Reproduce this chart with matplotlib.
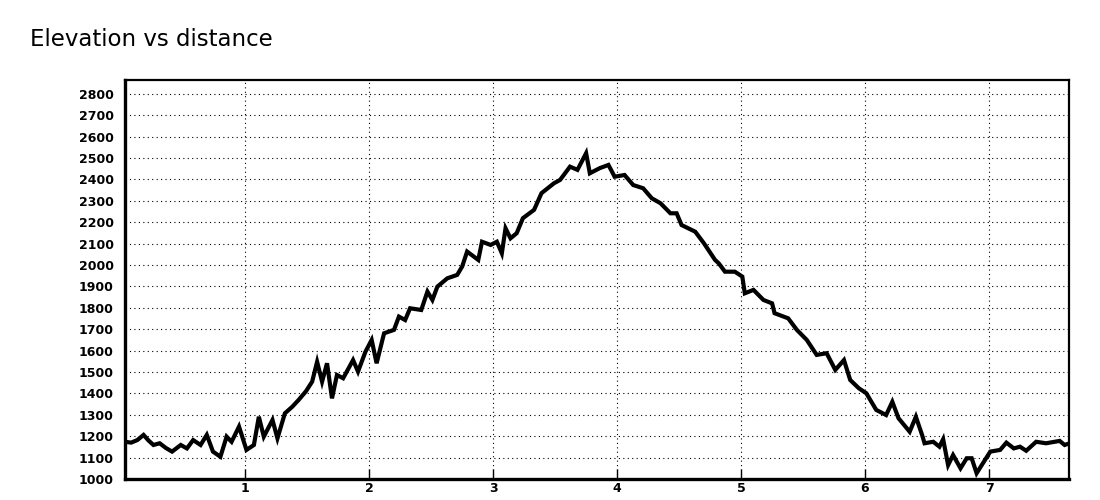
import matplotlib
matplotlib.use("Agg")
import matplotlib.pyplot as plt

title = "Elevation vs distance"

distance_km = [
    0.03, 0.08, 0.13, 0.18, 0.22, 0.26, 0.31, 0.36, 0.41, 0.48, 0.53, 0.58, 0.64, 0.69,
    0.74, 0.80, 0.85, 0.89, 0.95, 1.01, 1.07, 1.11, 1.15, 1.22, 1.26, 1.32, 1.38, 1.43,
    1.49, 1.54, 1.58, 1.62, 1.66, 1.70, 1.74, 1.79, 1.87, 1.91, 1.97, 2.02, 2.06, 2.12,
    2.20, 2.24, 2.29, 2.33, 2.42, 2.47, 2.51, 2.55, 2.63, 2.71, 2.75, 2.79, 2.88, 2.91,
    2.98, 3.03, 3.07, 3.10, 3.14, 3.19, 3.24, 3.33, 3.39, 3.49, 3.54, 3.62, 3.68, 3.75,
    3.78, 3.86, 3.93, 3.98, 4.06, 4.13, 4.21, 4.28, 4.35, 4.43, 4.48, 4.52, 4.63, 4.70,
    4.79, 4.82, 4.87, 4.95, 5.01, 5.03, 5.10, 5.18, 5.25, 5.27, 5.38, 5.45, 5.53, 5.61,
    5.69, 5.76, 5.83, 5.88, 5.95, 6.01, 6.09, 6.17, 6.22, 6.27, 6.36, 6.41, 6.46, 6.48,
    6.55, 6.60, 6.63, 6.67, 6.71, 6.77, 6.82, 6.86, 6.90, 6.95, 7.01, 7.09, 7.14, 7.20,
    7.25, 7.30, 7.38, 7.46, 7.57, 7.61, 7.64,
]

elevation_m = [
    1174, 1170, 1182, 1206, 1180, 1159, 1167, 1145, 1128, 1159, 1143, 1182, 1159, 1206,
    1128, 1104, 1198, 1174, 1245, 1136, 1159, 1291, 1198, 1276, 1190, 1307, 1338, 1369,
    1410, 1455, 1548, 1455, 1541, 1377, 1486, 1471, 1556, 1502, 1595, 1650, 1541, 1681,
    1697, 1759, 1743, 1798, 1790, 1876, 1837, 1899, 1938, 1954, 1993, 2063, 2024, 2109,
    2094, 2109, 2055, 2172, 2125, 2149, 2219, 2258, 2336, 2382, 2398, 2460, 2445, 2523,
    2429, 2453, 2468, 2413, 2421, 2374, 2359, 2312, 2289, 2242, 2242, 2187, 2156, 2102,
    2024, 2008, 1969, 1969, 1946, 1868, 1884, 1837, 1821, 1775, 1751, 1697, 1650, 1580,
    1588, 1510, 1556, 1463, 1424, 1401, 1323, 1299, 1361, 1284, 1221, 1291, 1206, 1167,
    1174, 1151, 1186, 1065, 1112, 1050, 1097, 1097, 1027, 1073, 1128, 1136, 1170, 1143,
    1151, 1132, 1174, 1167, 1178, 1159, 1165,
]

x_ticks = [1, 2, 3, 4, 5, 6, 7]
y_ticks = list(range(1000, 2900, 100))

fig = plt.figure(figsize=(11, 5), dpi=100)
ax = fig.add_axes([0.1136, 0.042, 0.8582, 0.798])

ax.plot(distance_km, elevation_m, color="black", linewidth=3.0, solid_joinstyle="miter")

ax.set_xlim(0.03, 7.645)
ax.set_ylim(1000, 2865)
ax.set_xticks(x_ticks)
ax.set_yticks(y_ticks)
ax.set_xticklabels([str(t) for t in x_ticks])
ax.set_yticklabels([str(t) for t in y_ticks])

ax.grid(True, color="black", linestyle=(0, (1, 3)), linewidth=0.8)
ax.set_axisbelow(True)

ax.tick_params(axis="x", direction="in", length=7, width=1, pad=2,
               labelsize=9, top=False)
ax.tick_params(axis="y", length=0, pad=8, labelsize=9)
for lab in ax.get_xticklabels() + ax.get_yticklabels():
    lab.set_fontweight("bold")

ax.spines["left"].set_linewidth(2.4)
ax.spines["bottom"].set_linewidth(2.4)
ax.spines["top"].set_linewidth(1.6)
ax.spines["right"].set_linewidth(1.6)

fig.text(0.027, 0.92, title, fontsize=16.5, ha="left", va="center")

fig.savefig("out.png", dpi=100)
